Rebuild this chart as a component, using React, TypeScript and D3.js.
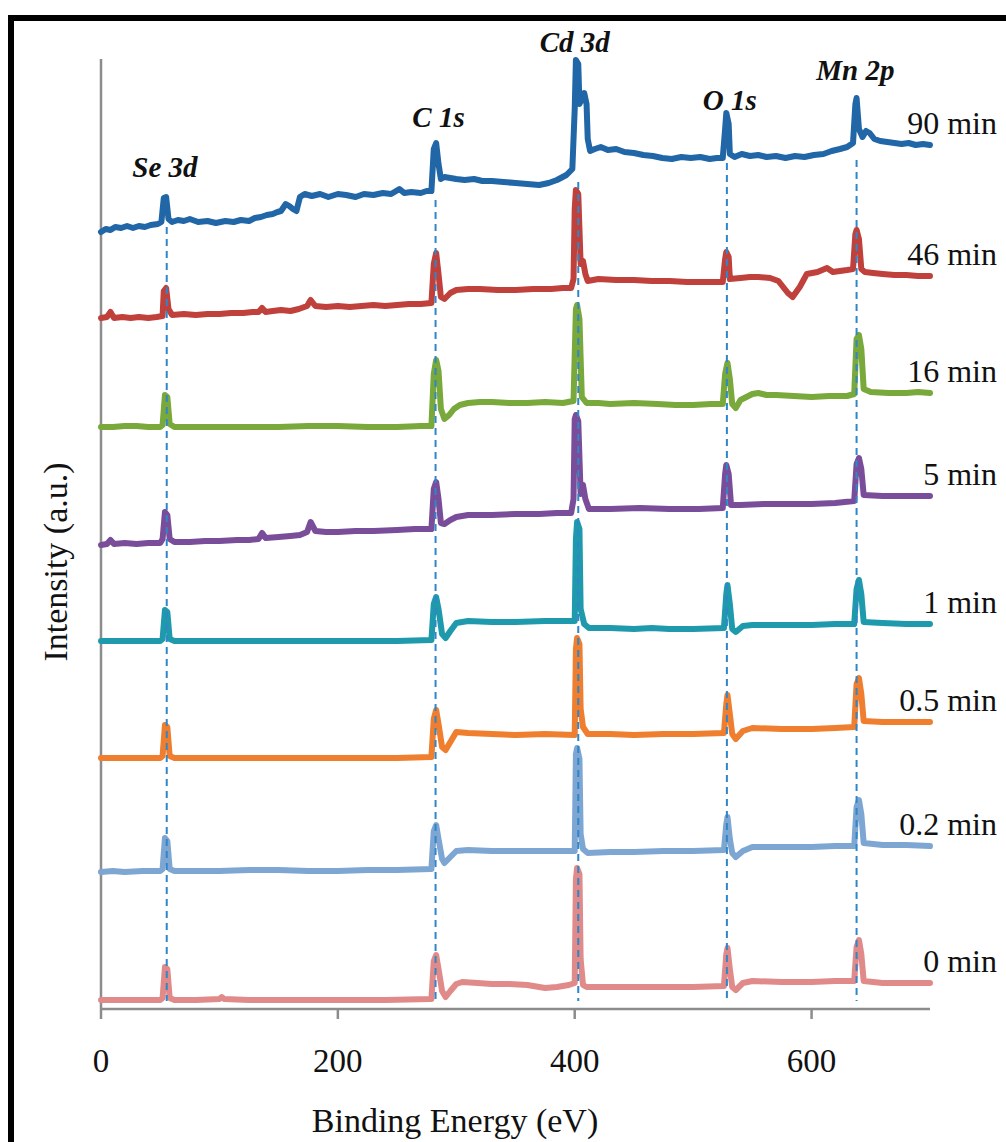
import React from 'react';
import * as d3 from 'd3';

type Pt = [number, number];

// binding energy (eV), intensity (a.u., stacked offsets included)
const min90: Pt[] = [
  [0, 777], [4, 780], [8, 779], [12, 782], [17, 781], [22, 783], [27, 781], [32, 783], [37, 782],
  [42, 784], [48, 785], [51, 787], [53, 811], [55, 812], [57, 790], [60, 787], [65, 789], [70, 788],
  [75, 790], [82, 787], [90, 788], [97, 786], [105, 788], [112, 787], [118, 789], [125, 788],
  [130, 791], [135, 792], [140, 794], [145, 795], [149, 797], [152, 798], [156, 805], [159, 803],
  [162, 800], [165, 798], [168, 812], [172, 815], [178, 813], [185, 815], [192, 812], [200, 815],
  [207, 814], [215, 812], [222, 815], [230, 814], [238, 816], [245, 815], [252, 820], [256, 816],
  [262, 817], [270, 816], [275, 818], [279, 818], [281, 860], [283, 866], [285, 845], [287, 830],
  [290, 832], [295, 831], [300, 830], [307, 829], [315, 830], [322, 828], [330, 828], [340, 827],
  [350, 826], [360, 825], [370, 824], [378, 826], [385, 829], [393, 834], [398, 840], [400, 900],
  [401, 949], [403, 945], [404, 905], [406, 910], [408, 916], [410, 905], [411, 870], [413, 858],
  [417, 860], [422, 862], [428, 859], [435, 860], [442, 857], [450, 856], [458, 854], [466, 853],
  [474, 851], [482, 850], [490, 852], [498, 851], [506, 852], [514, 850], [520, 851], [525, 851],
  [527, 880], [528, 896], [530, 885], [531, 855], [535, 852], [541, 855], [548, 853], [555, 854],
  [562, 852], [570, 853], [578, 851], [586, 853], [594, 852], [602, 854], [610, 855], [617, 858],
  [624, 860], [630, 862], [635, 866], [637, 905], [638, 911], [640, 880], [643, 872], [646, 878],
  [649, 876], [653, 870], [658, 868], [664, 867], [670, 866], [676, 865], [682, 866], [688, 864],
  [694, 865], [700, 864],
];

const min46: Pt[] = [
  [0, 691], [5, 692], [8, 697], [11, 691], [18, 692], [25, 691], [32, 692], [40, 691], [47, 692],
  [52, 693], [53, 718], [55, 721], [57, 700], [60, 694], [70, 695], [80, 694], [90, 695],
  [100, 695], [110, 696], [120, 696], [128, 697], [133, 697], [136, 701], [139, 697], [145, 698],
  [152, 699], [160, 698], [167, 700], [174, 703], [177, 709], [181, 703], [190, 702], [200, 703],
  [210, 702], [220, 703], [230, 704], [240, 703], [250, 704], [260, 705], [270, 705], [279, 706],
  [281, 745], [283, 756], [285, 735], [287, 712], [290, 710], [295, 716], [300, 719], [310, 720],
  [320, 720], [335, 719], [350, 719], [365, 720], [380, 720], [390, 721], [397, 721], [399, 730],
  [400, 800], [401, 819], [403, 815], [405, 745], [407, 748], [409, 735], [411, 728], [420, 730],
  [435, 729], [450, 729], [465, 728], [480, 728], [495, 727], [510, 727], [525, 727], [527, 750],
  [528, 757], [530, 752], [531, 730], [540, 731], [548, 732], [555, 732], [565, 731], [572, 728],
  [580, 716], [584, 712], [590, 722], [596, 735], [605, 737], [613, 741], [618, 737], [624, 738],
  [630, 739], [635, 740], [637, 775], [638, 779], [640, 770], [642, 740], [645, 737], [652, 736],
  [660, 735], [670, 734], [680, 734], [690, 733], [700, 733],
];

const min16: Pt[] = [
  [0, 582], [10, 582], [20, 583], [30, 583], [40, 582], [50, 582], [52, 584], [54, 614],
  [56, 612], [58, 585], [62, 582], [80, 582], [100, 582], [125, 582], [150, 582], [175, 583],
  [200, 583], [225, 582], [250, 582], [270, 583], [279, 583], [281, 635], [283, 649], [285, 638],
  [287, 600], [290, 590], [294, 594], [298, 600], [303, 604], [310, 606], [320, 607], [330, 607],
  [345, 606], [360, 606], [375, 607], [390, 606], [399, 608], [401, 700], [402, 704], [404, 690],
  [406, 612], [410, 606], [420, 606], [430, 605], [450, 606], [470, 605], [485, 604], [500, 604],
  [515, 605], [525, 605], [527, 635], [529, 646], [531, 630], [533, 605], [536, 601], [540, 609],
  [545, 612], [550, 615], [555, 616], [562, 614], [570, 614], [585, 613], [600, 612], [615, 613],
  [630, 613], [636, 615], [638, 670], [640, 674], [642, 660], [644, 620], [650, 617], [665, 616],
  [680, 616], [690, 617], [700, 616],
];

const min5: Pt[] = [
  [0, 464], [5, 465], [8, 469], [11, 465], [20, 466], [30, 465], [40, 466], [50, 466],
  [52, 470], [54, 497], [56, 494], [58, 470], [62, 467], [75, 467], [88, 468], [100, 468],
  [115, 469], [125, 469], [133, 470], [136, 476], [139, 471], [150, 472], [160, 473], [168, 474],
  [174, 477], [177, 487], [181, 478], [190, 477], [200, 477], [215, 478], [230, 478], [250, 479],
  [265, 480], [279, 480], [281, 520], [283, 527], [285, 510], [287, 486], [290, 485], [295, 489],
  [300, 492], [310, 494], [330, 494], [350, 495], [370, 495], [385, 496], [397, 496], [399, 510],
  [400, 590], [401, 594], [403, 588], [405, 515], [407, 524], [409, 510], [412, 500], [430, 500],
  [455, 501], [480, 500], [505, 500], [525, 501], [527, 535], [528, 544], [530, 535], [532, 504],
  [540, 504], [560, 505], [580, 505], [600, 505], [620, 506], [636, 508], [638, 545], [640, 551],
  [642, 540], [644, 514], [660, 513], [680, 513], [700, 513],
];

const min1: Pt[] = [
  [0, 368], [25, 368], [50, 368], [52, 370], [54, 399], [56, 397], [58, 370], [62, 368],
  [100, 368], [150, 368], [200, 368], [250, 368], [279, 369], [281, 405], [283, 412], [285, 400],
  [288, 375], [291, 371], [295, 378], [300, 386], [310, 388], [330, 387], [350, 387], [375, 388],
  [400, 388], [401, 470], [402, 487], [404, 480], [405, 400], [408, 385], [412, 381], [430, 381],
  [450, 380], [465, 381], [480, 380], [500, 380], [526, 381], [528, 415], [529, 424], [531, 405],
  [533, 380], [536, 377], [542, 383], [550, 384], [575, 384], [600, 384], [620, 385], [636, 385],
  [638, 420], [640, 429], [642, 415], [644, 387], [660, 386], [680, 385], [700, 385],
];

const min05: Pt[] = [
  [0, 251], [25, 251], [50, 251], [52, 253], [54, 284], [56, 282], [58, 253], [62, 251],
  [100, 251], [150, 251], [200, 251], [250, 251], [279, 252], [281, 290], [283, 299], [285, 285],
  [288, 262], [291, 259], [295, 267], [300, 277], [310, 276], [330, 275], [350, 274], [375, 275],
  [400, 274], [401, 360], [402, 371], [404, 365], [405, 300], [407, 282], [411, 275], [430, 275],
  [450, 274], [475, 275], [500, 275], [526, 276], [528, 305], [529, 314], [531, 295], [533, 275],
  [536, 270], [542, 278], [550, 281], [575, 280], [600, 280], [620, 281], [636, 282], [638, 325],
  [640, 331], [642, 315], [644, 288], [660, 287], [680, 287], [700, 287],
];

const min02: Pt[] = [
  [0, 137], [10, 138], [20, 137], [35, 138], [50, 138], [52, 140], [54, 171], [56, 168],
  [58, 140], [62, 138], [80, 138], [100, 138], [125, 139], [150, 139], [175, 138], [200, 138],
  [225, 139], [250, 139], [279, 140], [281, 178], [283, 184], [285, 170], [288, 150], [290, 146],
  [295, 152], [300, 158], [310, 159], [330, 158], [350, 158], [375, 158], [400, 158], [401, 255],
  [402, 261], [404, 250], [405, 175], [407, 160], [411, 156], [430, 157], [450, 157], [475, 158],
  [500, 158], [526, 159], [528, 185], [529, 192], [531, 170], [533, 156], [536, 152], [542, 158],
  [550, 162], [575, 162], [600, 162], [620, 163], [636, 163], [638, 202], [640, 209], [642, 195],
  [644, 166], [660, 164], [680, 164], [700, 163],
];

const min0: Pt[] = [
  [0, 9], [25, 9], [50, 9], [52, 11], [54, 42], [56, 40], [58, 11], [62, 9],
  [80, 9], [100, 10], [102, 12], [104, 10], [125, 9], [150, 9], [175, 9], [200, 9],
  [240, 9], [279, 10], [281, 48], [283, 54], [285, 40], [288, 18], [291, 12], [295, 18],
  [300, 25], [305, 27], [318, 26], [330, 25], [345, 25], [360, 24], [375, 21], [385, 22],
  [395, 24], [400, 26], [401, 130], [402, 141], [404, 135], [405, 50], [407, 24], [410, 22],
  [430, 22], [450, 22], [475, 22], [500, 22], [526, 23], [528, 55], [529, 61], [531, 40],
  [533, 22], [536, 19], [542, 26], [550, 28], [575, 27], [600, 27], [620, 28], [636, 28],
  [638, 62], [640, 69], [642, 55], [644, 28], [660, 26], [680, 26], [700, 26],
];

const seriesNames = ['90 min', '46 min', '16 min', '5 min', '1 min', '0.5 min', '0.2 min', '0 min'];
const seriesData = [min90, min46, min16, min5, min1, min05, min02, min0];
const seriesColors = ['#2166A6', '#C0403C', '#79A83B', '#7A4D9A', '#1E9AAC', '#EF7E2E', '#7EA6D3', '#E18A8A'];

// peak assignments: name, energy of guide line, top of guide, label height
const peakNames = ['Se 3d', 'C 1s', 'Cd 3d', 'O 1s', 'Mn 2p'];
const peakEnergy = [55.5, 282.5, 403, 528.5, 638];
const peakGuideTop = [782, 809, 827, 846, 849];
const peakLabelY = [832, 882, 957, 899, 929];
const peakLabelE = [54, 285, 400, 531, 637];

const xTicks = [0, 200, 400, 600];

const W = 1006;
const H = 1142;
const serif = '"Liberation Serif", "Times New Roman", Times, serif';

export default function App() {
  const x = d3.scaleLinear().domain([0, 700]).range([101, 930]);
  const y = d3.scaleLinear().domain([0, 950]).range([1009, 59]);
  const line = d3.line<Pt>().x(d => x(d[0])).y(d => y(d[1]));

  return (
    <svg width={W} height={H} style={{ position: 'absolute', left: 0, top: 0, background: '#fff' }}>
      <rect x={11} y={18} width={W + 50} height={H + 50} fill="none" stroke="#000" strokeWidth={6} />

      {/* axes */}
      <line x1={x(0)} x2={x(0)} y1={y(950)} y2={y(0)} stroke="#8c8c8c" strokeWidth={2.5} />
      <line x1={x(0)} x2={x(700)} y1={y(0)} y2={y(0)} stroke="#8c8c8c" strokeWidth={2.5} />
      {xTicks.map(t => (
        <g key={t}>
          <line x1={x(t)} x2={x(t)} y1={y(0)} y2={y(0) + 10} stroke="#8c8c8c" strokeWidth={2.5} />
          <text x={x(t)} y={1072} textAnchor="middle" fontFamily={serif} fontSize={33} fill="#111">{t}</text>
        </g>
      ))}
      <text x={455} y={1132} textAnchor="middle" fontFamily={serif} fontSize={34} fill="#111">Binding Energy (eV)</text>
      <text transform="translate(67,562) rotate(-90)" textAnchor="middle" fontFamily={serif} fontSize={34} fill="#111">Intensity (a.u.)</text>

      {/* spectra */}
      {seriesData.map((d, i) => (
        <path key={seriesNames[i]} d={line(d) || ''} fill="none" stroke={seriesColors[i]}
          strokeWidth={6} strokeLinejoin="round" strokeLinecap="round" />
      ))}

      {/* guide lines */}
      {peakEnergy.map((e, i) => (
        <line key={peakNames[i]} x1={x(e)} x2={x(e)} y1={y(peakGuideTop[i])} y2={y(8)}
          stroke="#2F86C8" strokeWidth={2} strokeDasharray="7 5" />
      ))}

      {/* peak labels */}
      {peakNames.map((n, i) => (
        <text key={n} x={x(peakLabelE[i])} y={y(peakLabelY[i])} textAnchor="middle" fontFamily={serif}
          fontSize={29} fontWeight="bold" fontStyle="italic" fill="#111">{n}</text>
      ))}

      {/* series labels */}
      {seriesData.map((d, i) => (
        <text key={'l' + i} x={997} y={y(d[d.length - 1][1]) - 11} textAnchor="end" fontFamily={serif}
          fontSize={32} fill="#111">{seriesNames[i]}</text>
      ))}
    </svg>
  );
}
